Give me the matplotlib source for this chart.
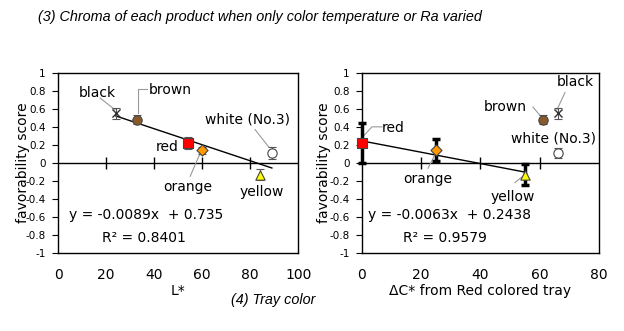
import matplotlib
matplotlib.use("Agg")
import matplotlib.pyplot as plt
import numpy as np

plt.rcParams['font.family'] = ['DejaVu Sans']

# ---- data ----
names = ["black", "brown", "red", "orange", "white (No.3)", "yellow"]
lstar = [24, 33, 54, 60, 89, 84]
dchroma = [66, 61, 0, 25, 66, 55]
score = [0.55, 0.48, 0.22, 0.14, 0.11, -0.13]
err_left = [0.06, 0.05, 0.07, 0.04, 0.07, 0.06]
err_right = [0.06, 0.05, 0.22, 0.12, 0.06, 0.12]
thick_right = [False, False, True, True, False, True]
markers = ["x", "o", "s", "D", "o", "^"]
facecolors = ["black", "#8B5A2B", "#FF0000", "#FF9900", "white", "#FFFF00"]

fit_left = (-0.0089, 0.735)
fit_right = (-0.0063, 0.2438)
fit_left_range = (24, 89)
fit_right_range = (0, 55)
eq_left = ["y = -0.0089x  + 0.735", "R² = 0.8401"]
eq_right = ["y = -0.0063x  + 0.2438", "R² = 0.9579"]

yticks = [1, 0.8, 0.6, 0.4, 0.2, 0, -0.2, -0.4, -0.6, -0.8, -1]
ytick_labels = ["1", "0.8", "0.6", "0.4", "0.2", "0", "-0.2", "-0.4", "-0.6", "-0.8", "-1"]

# label placements: (text x, text y, leader path)
left_labels = {
    "black": ((16.3, 0.78), [(17.5, 0.72), (23.7, 0.59)]),
    "brown": ((46.7, 0.81), [(36.9, 0.82), (33.3, 0.82), (33.3, 0.55)]),
    "red": ((45.4, 0.18), None),
    "orange": ((54, -0.27), [(55, -0.15), (58.9, 0.09)]),
    "yellow": ((85, -0.32), None),
    "white (No.3)": ((79, 0.48), [(82, 0.37), (87.6, 0.18)]),
}
right_labels = {
    "red": ((10.5, 0.39), [(6.8, 0.40), (3.4, 0.40), (0.3, 0.29)]),
    "orange": ((22.3, -0.18), [(22.3, -0.06), (24.6, 0.09)]),
    "yellow": ((51, -0.38), [(51.6, -0.22), (55, -0.13)]),
    "brown": ((48.3, 0.62), [(57.7, 0.62), (60, 0.53)]),
    "black": ((72, 0.90), [(68.5, 0.78), (65.8, 0.59)]),
    "white (No.3)": ((64.5, 0.27), None),
}

fig = plt.figure(figsize=(6.24, 3.31), dpi=100)
axL = fig.add_axes([0.093, 0.236, 0.385, 0.544])
axR = fig.add_axes([0.580, 0.236, 0.380, 0.544])

def setup(ax, xmax, xticks, xlabel, ylab_x):
    ax.set_xlim(0, xmax)
    ax.set_ylim(-1, 1)
    ax.set_yticks(yticks)
    ax.set_yticklabels(ytick_labels, fontsize=7.5)
    ax.set_xticks(xticks)
    ax.set_xticklabels([str(t) for t in xticks], fontsize=10)
    ax.tick_params(axis='y', length=4, width=0.8, pad=5)
    ax.tick_params(axis='x', length=0, pad=11)
    for s in ax.spines.values():
        s.set_linewidth(1.0)
    ax.axhline(0, color='black', lw=1.0, zorder=1)
    sec = ax.secondary_xaxis(0.5)
    sec.set_xticks(xticks[1:-1])
    sec.set_xticklabels([])
    sec.tick_params(direction='inout', length=8, width=1.0,
                    labelbottom=False, labeltop=False)
    for s in sec.spines.values():
        s.set_visible(False)
    ax.set_xlabel(xlabel, fontsize=10, labelpad=1)
    ax.set_ylabel("favorability score", fontsize=10)
    ax.yaxis.set_label_coords(ylab_x, 0.5)

setup(axL, 100, [0, 20, 40, 60, 80, 100], "L*", -0.117)
setup(axR, 80, [0, 20, 40, 60, 80], "ΔC* from Red colored tray", -0.131)

# left plot
for i, n in enumerate(names):
    axL.errorbar(lstar[i], score[i], yerr=err_left[i], fmt='none', ecolor='#555555',
                 elinewidth=0.8, capsize=3, capthick=0.8, zorder=3)
    if markers[i] == "x":
        axL.scatter(lstar[i], score[i], marker='x', color='#333333', s=34, lw=1.0, zorder=4)
    else:
        axL.scatter(lstar[i], score[i], marker=markers[i], facecolor=facecolors[i],
                    edgecolor='#444444', s=45 if markers[i] != 'D' else 32, lw=0.8, zorder=4)
xl = np.array(fit_left_range)
axL.plot(xl, fit_left[0] * xl + fit_left[1], color='black', lw=1.0, zorder=2)

# right plot
for i, n in enumerate(names):
    if thick_right[i]:
        axR.errorbar(dchroma[i], score[i], yerr=err_right[i], fmt='none', ecolor='black',
                     elinewidth=2.5, capsize=3, capthick=2.5, zorder=3, clip_on=False)
    else:
        axR.errorbar(dchroma[i], score[i], yerr=err_right[i], fmt='none', ecolor='#555555',
                     elinewidth=0.8, capsize=3, capthick=0.8, zorder=3)
    if markers[i] == "x":
        axR.scatter(dchroma[i], score[i], marker='x', color='#333333', s=34, lw=1.0, zorder=4)
    else:
        axR.scatter(dchroma[i], score[i], marker=markers[i], facecolor=facecolors[i],
                    edgecolor='#444444', s=45 if markers[i] != 'D' else 32, lw=0.8,
                    zorder=4, clip_on=False)
xr = np.array(fit_right_range)
axR.plot(xr, fit_right[0] * xr + fit_right[1], color='black', lw=1.0, zorder=2)

def put_labels(ax, labels):
    for n, (pos, path) in labels.items():
        ax.text(pos[0], pos[1], n, fontsize=10, ha='center', va='center', zorder=5)
        if path:
            px, py = zip(*path)
            ax.plot(px, py, color='#999999', lw=0.8, zorder=2)

put_labels(axL, left_labels)
put_labels(axR, right_labels)

axL.text(4.6, -0.58, eq_left[0], fontsize=10, ha='left', va='center')
axL.text(18.3, -0.83, eq_left[1], fontsize=10, ha='left', va='center')
axR.text(2.0, -0.58, eq_right[0], fontsize=10, ha='left', va='center')
axR.text(13.8, -0.84, eq_right[1], fontsize=10, ha='left', va='center')

fig.text(0.417, 0.948, "(3) Chroma of each product when only color temperature or Ra varied",
         fontsize=10.4, style='italic', family=['Liberation Sans'], ha='center', va='center')
fig.text(0.437, 0.093, "(4) Tray color", fontsize=10.4, style='italic',
         family=['Liberation Sans'], ha='center', va='center')

fig.savefig("out.png", dpi=100)
